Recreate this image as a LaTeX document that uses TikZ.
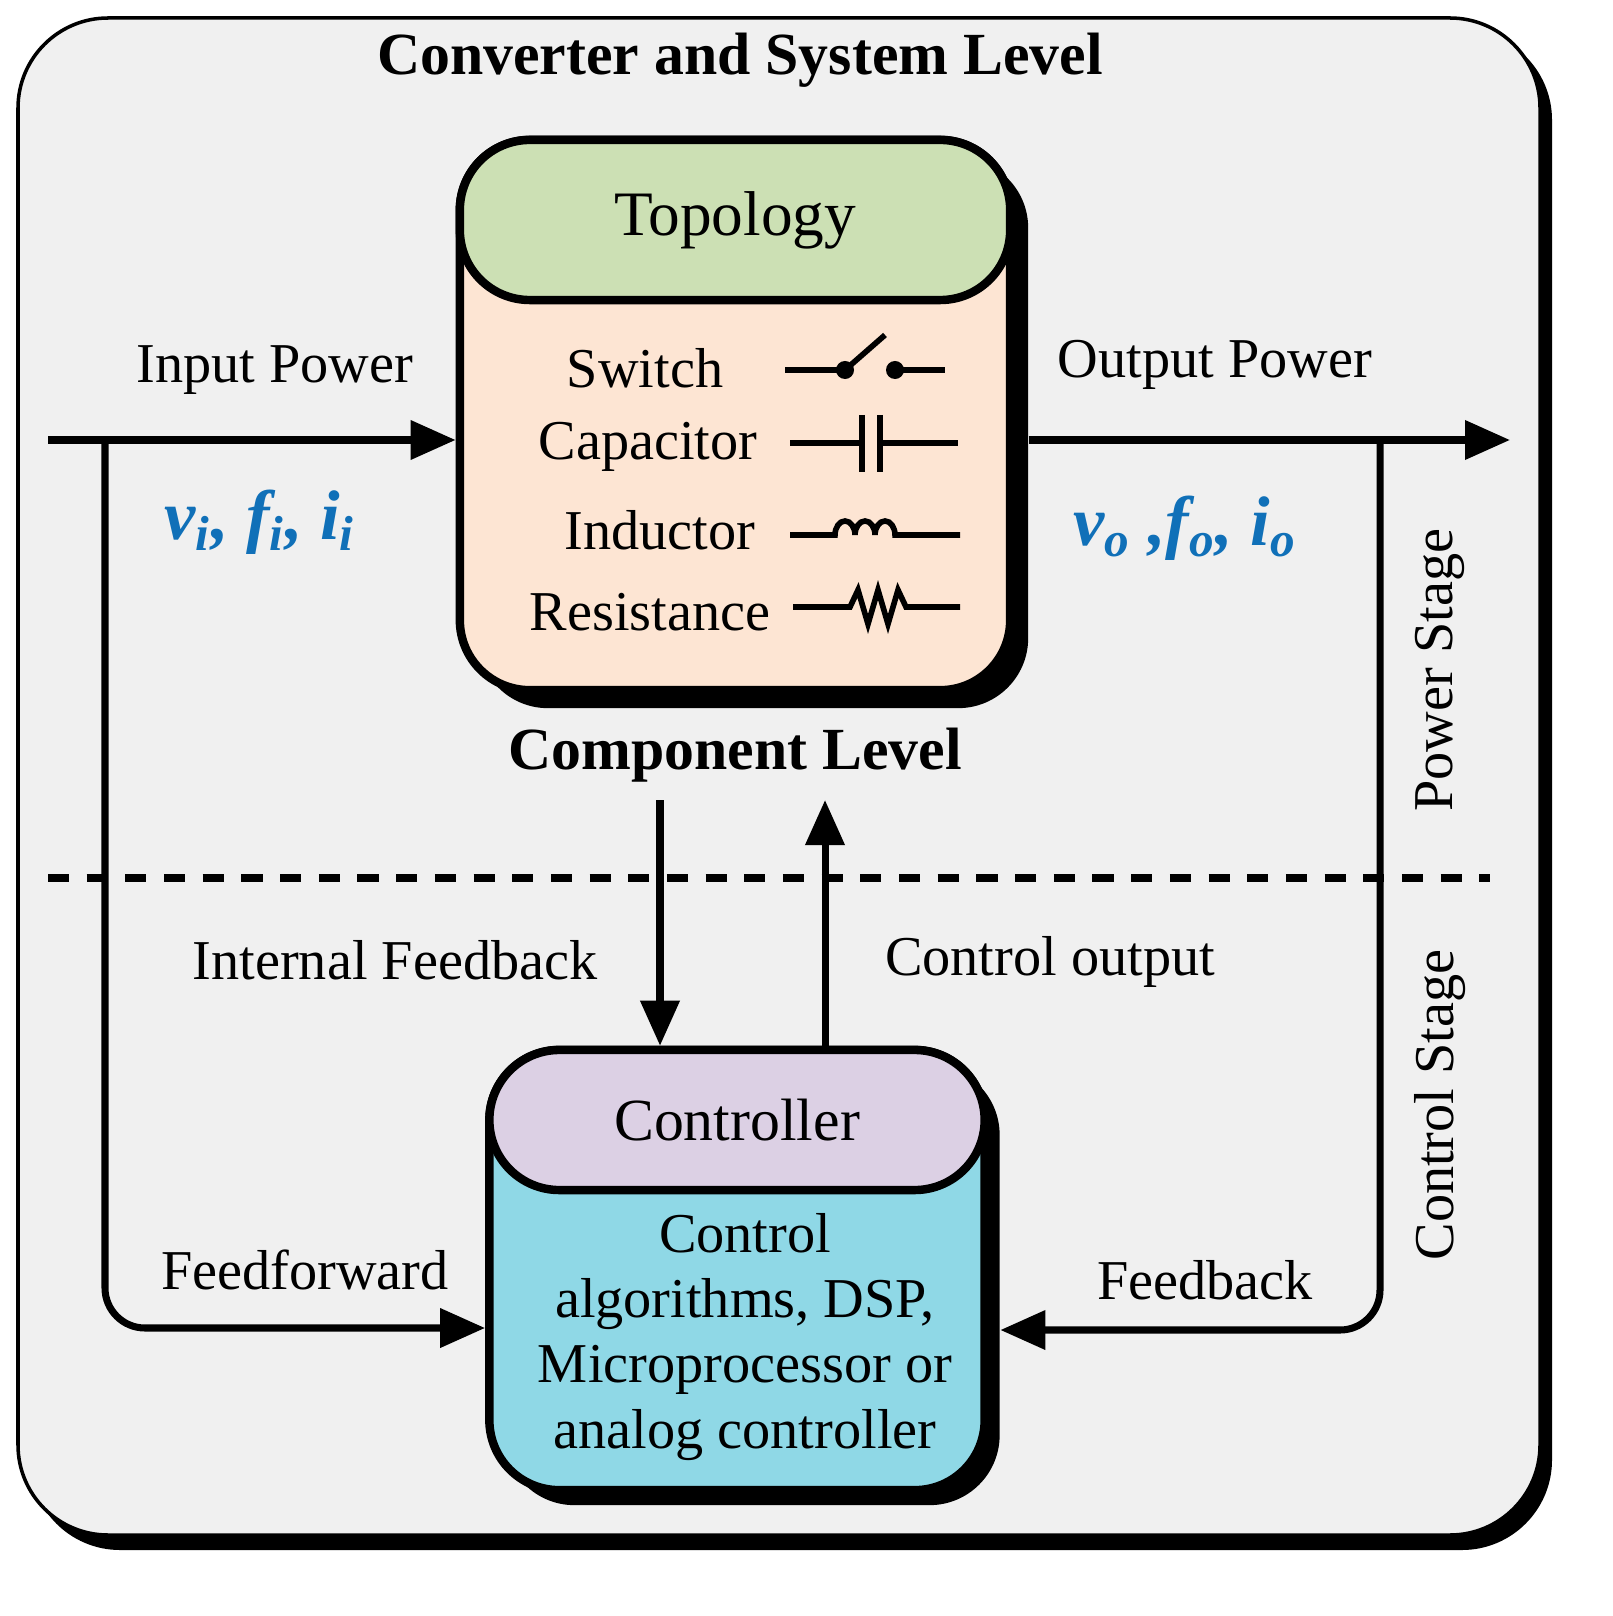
\documentclass[tikz,border=0pt]{standalone}
\usepackage{fontspec}
\setmainfont{Liberation Serif}
\usetikzlibrary{arrows.meta}
\definecolor{bg}{HTML}{F0F0F0}
\definecolor{green}{HTML}{CCE0B4}
\definecolor{peach}{HTML}{FDE5D3}
\definecolor{lav}{HTML}{DCD0E4}
\definecolor{cyan}{HTML}{8FD8E6}
\definecolor{blu}{HTML}{1070B8}
\begin{document}
\begin{tikzpicture}[x=0.01cm,y=-0.01cm,
  txt/.style={font=\fontsize{16}{19}\selectfont},
  box/.style={draw,line width=2.4pt,rounded corners=0.7cm,inner sep=0pt},
  shad/.style={fill=black,rounded corners=0.7cm,inner sep=0pt},
  wire/.style={line width=2pt},
  arr/.style={wire,-{Triangle[length=0.45cm,width=0.38cm]}},
  sym/.style={line width=1.6pt}]
\useasboundingbox (0,0) rectangle (1613,1616);
% outer frame
\fill[rounded corners=0.9cm] (30,30) rectangle (1552,1550);
\filldraw[fill=bg,draw=black,line width=1pt,rounded corners=0.9cm] (18,18) rectangle (1540,1535);
\node[font=\fontsize{17}{20}\selectfont\bfseries] (title) at (740,60) {Converter and System Level};
% topology box
\node[shad,minimum width=5.5cm,minimum height=5.5cm] (tbs) at (753,433) {};
\node[box,fill=peach,minimum width=5.5cm,minimum height=5.5cm] (tb) at (735,415) {};
\node[box,fill=green,minimum width=5.5cm,minimum height=1.6cm] (th) at (735,220) {};
\node[font=\fontsize{18}{22}\selectfont] at (th) {Topology};
\node[txt] (sw) at (645,368) {Switch};
\node[txt] (cap) at (648,447) {Capacitor};
\node[txt] (ind) at (660,530) {Inductor};
\node[txt] (res) at (650,612) {Resistance};
% symbols
\draw[sym] (785,370) -- (845,370) -- (885,335);
\fill (845,370) circle (0.09cm) (895,370) circle (0.09cm);
\draw[sym] (895,370) -- (945,370);
\draw[sym] (790,443) -- (862,443) (862,415) -- (862,472) (880,415) -- (880,472) (880,443) -- (958,443);
\draw[sym] (790,535) -- (835,535) arc[start angle=180,end angle=0,x radius=10,y radius=-14]
  arc[start angle=180,end angle=0,x radius=10,y radius=-14] arc[start angle=180,end angle=0,x radius=10,y radius=-14] -- (960,535);
\draw[sym] (793,607) -- (850,607) -- (858,590) -- (868,624) -- (878,590) -- (888,624) -- (898,590) -- (906,607) -- (960,607);
% power arrows
\coordinate (in1) at (48,440);
\coordinate (out1) at (1510,440);
\draw[arr] (in1) -- (in1 -| tb.west);
\draw[arr] (in1 -| tbs.east) -- (out1);
\node[txt] (ip) at (275,370) {Input Power};
\node[txt] (op) at (1215,365) {Output Power};
\node[font=\fontsize{20}{24}\selectfont\bfseries\itshape,text=blu] (vi) at (260,522) {v\textsubscript{i}, f\textsubscript{i}, i\textsubscript{i}};
\node[font=\fontsize{20}{24}\selectfont\bfseries\itshape,text=blu] (vo) at (1185,528) {v\textsubscript{o} ,f\textsubscript{o}, i\textsubscript{o}};
\node[font=\fontsize{17}{20}\selectfont\bfseries] (cl) at (735,755) {Component Level};
% dashed
\draw[line width=2pt,dash pattern=on 6pt off 5pt] (48,878) -- (1490,878);
\node[txt,rotate=90] (ps) at (1440,670) {Power Stage};
\node[txt,rotate=90] (cs) at (1440,1105) {Control Stage};
% controller box
\node[shad,minimum width=4.95cm,minimum height=4.4cm] (cbs) at (752,1285) {};
\node[box,fill=cyan,minimum width=4.95cm,minimum height=4.4cm] (cb) at (737,1270) {};
\node[box,fill=lav,minimum width=4.95cm,minimum height=1.4cm] (ch) at (737,1120) {};
\node[font=\fontsize{17}{20}\selectfont] at (ch) {Controller};
\node[align=center,font=\fontsize{16}{18.5}\selectfont] (ct) at (745,1337) {Control\\algorithms, DSP,\\Microprocessor or\\analog controller};
% vertical arrows
\coordinate (d1) at (660,800);
\coordinate (u1) at (825,800);
\draw[arr] (d1) -- (d1 |- ch.north);
\draw[arr] (u1 |- ch.north) -- (u1);
\node[txt] (ifb) at (395,960) {Internal Feedback};
\node[txt] (co) at (1050,962) {Control output};
% feedforward / feedback
\coordinate (ff0) at (105,440);
\coordinate (fb0) at (1380,440);
\draw[arr,rounded corners=0.4cm] (ff0) -- (105,1328) -- (cb.west |- 0,1328);
\draw[arr,rounded corners=0.4cm] (fb0) -- (1380,1330) -- (cbs.east |- 0,1330);
\node[txt] (ffl) at (305,1270) {Feedforward};
\node[txt] (fbl) at (1205,1280) {Feedback};
\end{tikzpicture}
\end{document}
